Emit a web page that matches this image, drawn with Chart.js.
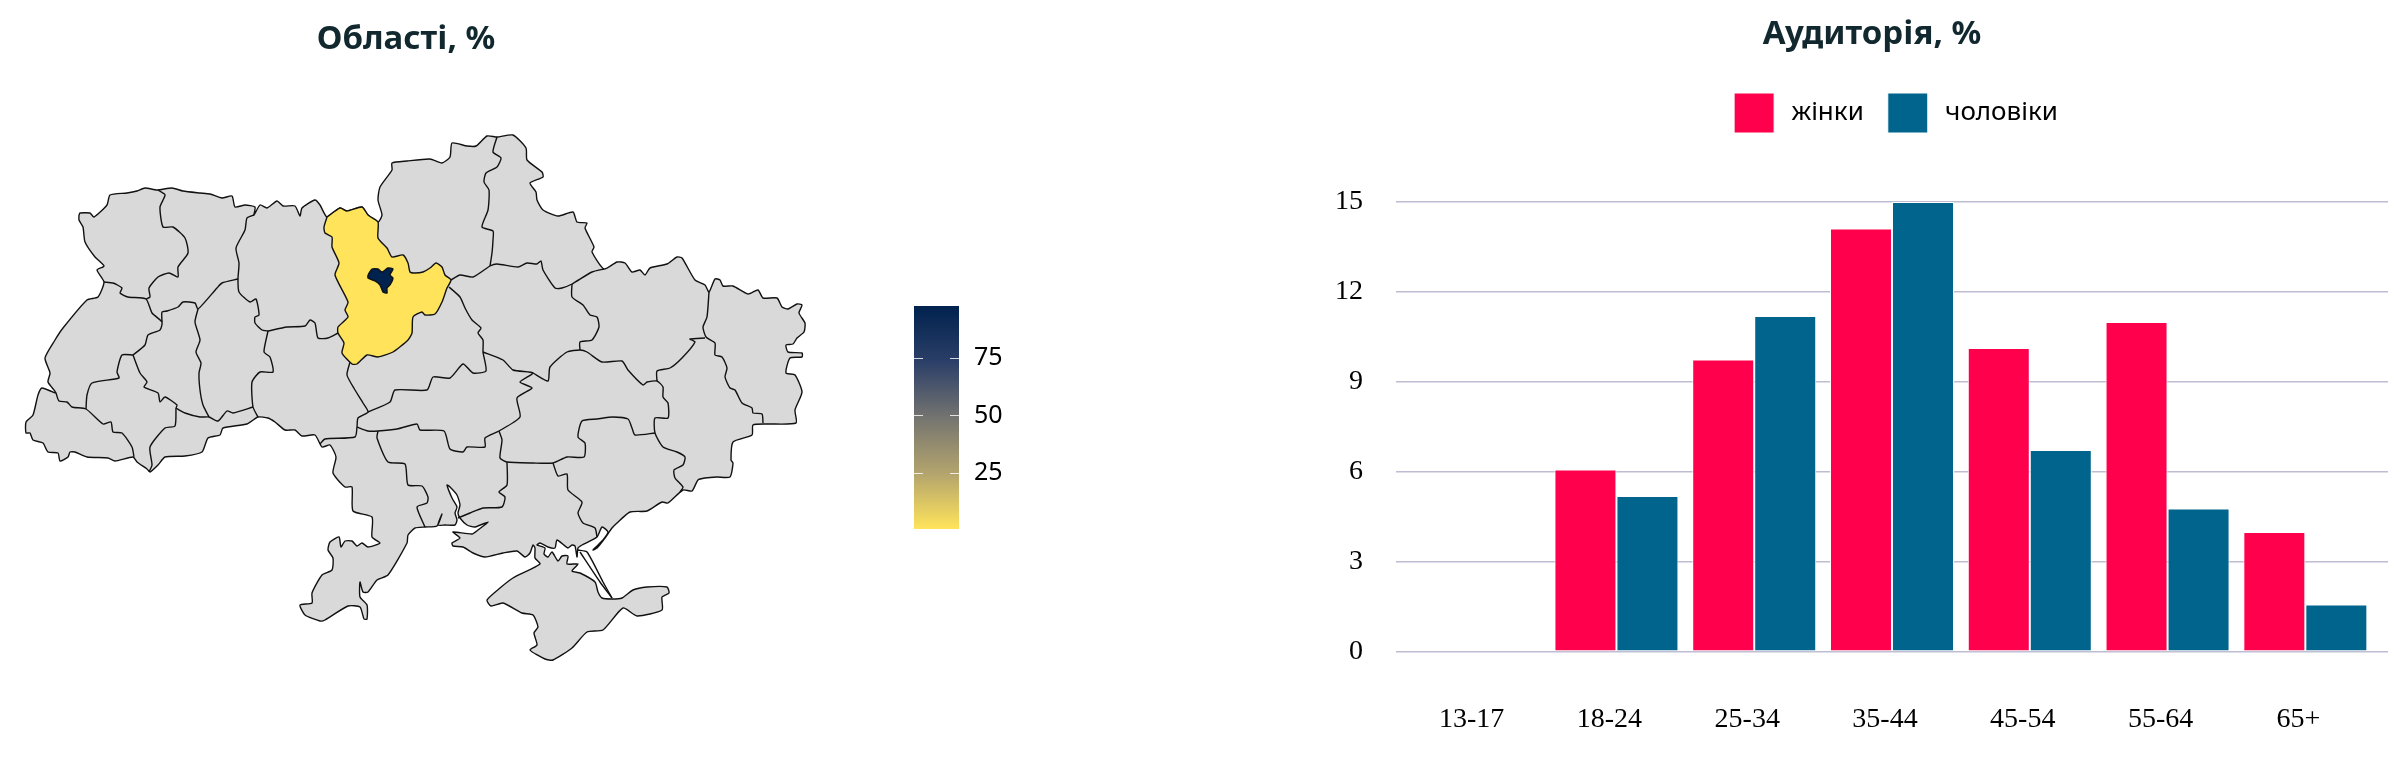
<!DOCTYPE html>
<html>
<head>
<meta charset="utf-8">
<title>Області та аудиторія</title>
<script src="https://cdn.jsdelivr.net/npm/chart.js@4/dist/chart.umd.min.js"></script>
<style>
  html, body { margin: 0; padding: 0; background: #fff; overflow: hidden; }
  body { width: 2396px; height: 760px; position: relative; }
  canvas { position: absolute; display: block; }
  h2 { position: absolute; margin: 0; font: 700 33px "Noto Sans", sans-serif; color: #12282f; transform: translateX(-50%); white-space: nowrap; }
</style>
</head>
<body>
<canvas id="map" width="900" height="760" style="left:0;top:0"></canvas>
<canvas id="scale" width="120" height="250" style="left:914px;top:290px"></canvas>
<canvas id="bars" width="1068" height="760" style="left:1320px;top:0"></canvas>
<h2 style="left:406px;top:14px">Області, %</h2>
<h2 style="left:1872px;top:9px">Аудиторія, %</h2>
<script>
// audience by age
const ageGroups = ['13-17', '18-24', '25-34', '35-44', '45-54', '55-64', '65+']
const women = [0, 6.08, 9.75, 14.12, 10.13, 11, 4]
const men = [0, 5.2, 11.2, 15, 6.73, 4.78, 1.58]
const seriesNames = ['жінки', 'чоловіки']
const ageTicks = [0, 3, 6, 9, 12, 15]

// share by region
const kyivOblastShare = 0.6
const kyivCityShare = 97.6
const scaleTicks = [25, 50, 75]
const scaleColors = ['#ffe45b', '#b3a46d', '#747470', '#2b3f68', '#00224e']

// map outlines, in map units (x to the east, y to the south)
const outlineNorth = [[79,215],[80,213],[90,213],[94,217],[107,205],[110,195],[127,193],[137,191],[145,188],[157,190],[172,188],[183,191],[200,193],[210,194],[222,198],[232,196],[235,207],[245,205],[255,207],[254,215],[260,205],[267,208],[277,201],[283,206],[295,206],[300,216],[302,208],[315,200],[320,205],[327,217],[340,208],[347,211],[362,207],[368,215],[378,222],[382,215],[378,200],[380,187],[392,170],[392,163],[407,161],[430,159],[442,163],[450,157],[452,143],[467,146],[476,146],[487,136],[497,137],[513,135],[526,148],[527,160],[542,172],[543,177],[530,183],[536,192],[537,200],[543,210],[558,216],[573,212],[577,222],[587,223],[585,228],[594,247],[592,252],[604,269]]
const outlineEast = [[617,262],[625,263],[632,272],[640,270],[645,275],[650,268],[667,264],[677,257],[682,258],[695,280],[705,285],[709,292],[715,279],[720,280],[723,286],[733,286],[748,294],[758,290],[763,298],[777,298],[782,307],[788,309],[797,304],[802,305],[799,313],[805,323],[804,332],[797,338],[793,344],[786,345],[788,352],[802,353],[802,357],[790,358],[786,373],[795,375],[802,392],[795,410],[796,423],[767,424],[753,425],[752,435],[733,442],[731,460],[733,463],[730,477],[717,477],[705,478],[698,480],[692,491],[683,490],[668,503],[662,502],[647,511],[630,512],[617,523],[612,528],[605,538],[597,548],[593,550],[597,546],[603,540],[608,532],[602,527],[597,537],[582,545],[578,548],[577,557],[575,546],[572,545],[568,548],[557,540],[555,548],[548,547],[540,543],[537,545]]
const outlineCrimea = [[545,548],[544,554],[548,557],[552,552],[558,561],[562,556],[568,556],[567,564],[578,564],[572,571],[580,573],[595,582],[598,592],[602,598],[612,599],[622,598],[633,590],[647,587],[667,587],[669,593],[662,597],[662,610],[637,616],[623,608],[603,630],[587,632],[572,648],[553,660],[545,659],[530,650],[537,645],[534,633],[538,627],[533,615],[522,613],[503,603],[491,606],[487,600],[500,588],[513,578],[540,564],[535,558],[535,548],[533,545]]
const outlineSouth = [[530,553],[525,557],[517,551],[503,553],[485,557],[473,553],[463,547],[453,546],[452,543],[460,538],[453,532],[472,534],[478,530],[488,522],[475,527],[467,525],[460,518],[458,513],[460,505],[457,495],[450,487],[447,485],[452,498],[457,507],[455,513],[457,520],[455,525],[445,525],[438,525],[442,514],[437,526],[425,527],[415,528],[408,535],[407,543],[388,575],[377,580],[368,592],[363,592],[360,582],[360,597],[367,605],[367,619],[364,619],[360,607],[348,606],[325,620],[320,621],[305,615],[300,605],[312,603],[312,593],[322,575],[332,570],[333,558],[328,550],[330,542],[339,537],[341,547],[345,541],[352,541],[357,546],[362,543],[368,547],[380,543],[372,537],[372,517],[353,511],[352,487],[345,487],[333,473],[336,457],[330,445],[322,447],[315,435],[302,436],[295,430],[285,430],[275,422],[268,418],[258,417]]
const outlineWest = [[247,424],[223,428],[220,435],[208,438],[202,452],[185,456],[165,457],[158,465],[150,472],[147,469],[137,462],[133,457],[115,461],[108,458],[87,457],[75,452],[70,452],[68,457],[60,461],[58,453],[48,452],[43,443],[33,440],[30,433],[26,433],[26,422],[33,415],[38,395],[42,388],[56,393],[48,382],[50,373],[45,358],[55,340],[63,328],[87,300],[98,297],[104,282],[97,270],[104,266],[95,257],[85,242],[83,227],[79,220],[79,215]]

const kyivOblast = [[327,217],[340,208],[347,211],[362,207],[368,215],[378,222],[378,238],[387,248],[392,257],[403,255],[408,263],[410,272],[415,273],[423,272],[430,268],[436,263],[442,267],[445,275],[451,280],[447,288],[442,302],[435,314],[425,315],[422,312],[413,317],[412,333],[408,340],[393,352],[378,357],[367,355],[357,364],[352,364],[342,353],[344,343],[338,333],[338,327],[348,317],[345,310],[348,302],[335,275],[339,263],[332,247],[332,237],[325,233],[324,227],[327,217]]
const kyivCity = [[368,275],[372,269],[378,269],[382,272],[388,268],[393,269],[390,275],[393,278],[390,285],[387,288],[387,293],[383,292],[380,285],[375,281],[368,278],[368,275]]

const borders = [
  [[158,190],[165,195],[160,207],[163,227],[173,227],[185,238],[188,253],[178,267],[178,277],[169,273],[158,277],[149,288],[150,297],[146,299]],
  [[104,282],[113,283],[122,288],[120,293],[128,297],[146,299],[152,313],[162,322],[160,330],[148,335],[145,345],[133,355]],
  [[162,322],[162,312],[167,311],[178,307],[183,302],[195,303],[198,309],[217,288],[222,283],[238,279]],
  [[254,215],[247,218],[245,230],[236,248],[239,263],[238,279],[239,292],[250,302],[256,299],[259,315],[255,317],[255,323],[262,330],[268,331]],
  [[198,309],[195,322],[200,340],[196,352],[201,363],[199,373],[200,390],[203,405],[209,417]],
  [[268,331],[264,352],[270,357],[273,372],[260,372],[252,382],[253,407],[258,417]],
  [[176,408],[185,413],[200,417],[209,417],[218,421],[227,411],[233,413],[253,407]],
  [[176,408],[175,426],[165,428],[150,447],[152,465],[149,472]],
  [[133,355],[140,373],[147,382],[144,387],[158,393],[160,402],[165,397],[177,405],[176,408]],
  [[133,355],[122,355],[117,372],[119,378],[92,383],[87,395],[86,409]],
  [[56,393],[59,401],[67,402],[72,407],[86,409],[103,424],[111,422],[113,432],[122,433],[132,447],[134,457]],
  [[268,331],[287,327],[305,326],[310,320],[315,323],[318,338],[328,338],[338,333]],
  [[350,362],[347,375],[355,390],[363,403],[368,412],[358,418],[357,427],[355,437],[325,439],[320,444]],
  [[357,427],[368,431],[378,431],[397,429],[417,424],[420,430],[444,431],[450,449],[463,452],[467,447],[485,447],[485,438],[499,431],[520,417],[517,398],[532,388],[520,382],[533,373],[513,370],[503,360],[483,352]],
  [[368,412],[390,402],[395,390],[427,390],[433,377],[450,378],[463,364],[473,373],[486,371],[483,352],[483,340],[478,333],[481,328],[472,320],[465,308],[460,297],[449,287]],
  [[533,373],[548,381],[550,367],[567,352],[580,350],[587,352],[602,362],[622,361],[628,370],[643,385],[647,382],[657,381],[663,387],[663,397],[668,403],[668,418],[655,418],[655,433],[663,447],[677,452],[685,457],[683,465],[674,470],[675,478],[683,487],[680,492]],
  [[451,280],[460,275],[473,277],[490,266],[497,264],[518,267],[527,263],[537,264],[541,261],[543,270],[555,288],[562,288],[572,284],[592,272],[604,269]],
  [[497,137],[493,152],[501,158],[497,167],[486,173],[484,182],[489,190],[488,210],[482,227],[493,231],[493,240],[492,253],[490,266]],
  [[572,284],[572,297],[583,305],[590,315],[597,317],[599,327],[592,340],[580,342],[580,350]],
  [[709,292],[707,317],[703,327],[706,337],[715,343],[715,355],[722,357],[727,368],[725,377],[730,388],[735,390],[742,403],[752,408],[753,413],[762,414],[763,423]],
  [[657,381],[657,371],[670,368],[682,358],[695,342],[690,339],[705,338]],
  [[655,433],[635,435],[632,428],[628,419],[613,417],[597,419],[582,421],[578,437],[585,443],[584,457],[567,457],[553,463],[533,463],[507,462],[500,458],[502,440],[499,431]],
  [[553,463],[558,476],[567,474],[568,490],[582,502],[578,513],[583,523],[595,528],[597,537]],
  [[378,431],[377,438],[388,462],[405,464],[408,485],[422,486],[428,497],[427,503],[417,507],[425,527]],
  [[507,462],[507,485],[499,492],[505,497],[502,507],[483,508],[470,513],[458,518]],
  [[578,550],[587,552],[603,582],[612,598]],
  [[580,552],[600,582],[612,598]]
]

const toPoints = pts => pts.map(p => ({ x: p[0], y: p[1] }))

const mix = (a, b, t) => {
  const pa = parseInt(a.slice(1), 16), pb = parseInt(b.slice(1), 16)
  const ch = s => Math.round(((pa >> s) & 255) * (1 - t) + ((pb >> s) & 255) * t)
  return `rgb(${ch(16)},${ch(8)},${ch(0)})`
}
const shareColor = v => {
  const f = (v - kyivOblastShare) / (kyivCityShare - kyivOblastShare) * (scaleColors.length - 1)
  const i = Math.min(Math.floor(f), scaleColors.length - 2)
  return mix(scaleColors[i], scaleColors[i + 1], f - i)
}

const shape = (pts, fill) => ({
  data: toPoints(pts),
  showLine: true,
  fill: 'shape',
  backgroundColor: fill,
  borderColor: '#111',
  borderWidth: 1.4,
  tension: 0.2,
  pointRadius: 0,
  clip: false
})
const edge = pts => ({
  data: toPoints(pts),
  showLine: true,
  fill: false,
  borderColor: '#111',
  borderWidth: 1.4,
  tension: 0.2,
  pointRadius: 0,
  clip: false
})

Chart.defaults.animation = false

// the first dataset is drawn last, so the country goes at the end
new Chart(document.getElementById('map'), {
  type: 'scatter',
  data: {
    datasets: [
      ...borders.map(edge),
      shape(kyivCity, shareColor(kyivCityShare)),
      shape(kyivOblast, shareColor(kyivOblastShare)),
      shape([...outlineNorth, ...outlineEast, ...outlineCrimea, ...outlineSouth, ...outlineWest], '#d9d9d9')
    ]
  },
  options: {
    responsive: false,
    plugins: { legend: { display: false }, tooltip: { enabled: false } },
    scales: {
      x: { type: 'linear', display: false, min: 0, max: 900 },
      y: { type: 'linear', display: false, min: 0, max: 760, reverse: true }
    }
  }
})

// colour scale of the map
const scaleMarks = {
  id: 'scaleMarks',
  afterDatasetsDraw(chart) {
    const { ctx, chartArea: a, scales: { y } } = chart
    ctx.save()
    ctx.strokeStyle = 'rgba(255,255,255,.8)'
    ctx.lineWidth = 1
    scaleTicks.forEach(v => {
      const py = Math.round(y.getPixelForValue(v)) + 0.5
      ctx.beginPath()
      ctx.moveTo(a.left, py); ctx.lineTo(a.left + 9, py)
      ctx.moveTo(a.right - 9, py); ctx.lineTo(a.right, py)
      ctx.stroke()
    })
    ctx.restore()
  }
}

new Chart(document.getElementById('scale'), {
  type: 'bar',
  data: {
    labels: [''],
    datasets: [{
      data: [[kyivOblastShare, kyivCityShare]],
      categoryPercentage: 1,
      barPercentage: 1,
      backgroundColor: c => {
        const a = c.chart.chartArea
        if (!a) return scaleColors[0]
        const g = c.chart.ctx.createLinearGradient(0, a.bottom, 0, a.top)
        scaleColors.forEach((col, i) => g.addColorStop(i / (scaleColors.length - 1), col))
        return g
      }
    }]
  },
  options: {
    responsive: false,
    layout: { padding: { top: 16, bottom: 11 } },
    plugins: { legend: { display: false }, tooltip: { enabled: false } },
    scales: {
      x: { display: false },
      y: {
        position: 'right',
        min: kyivOblastShare,
        max: kyivCityShare,
        afterBuildTicks: s => { s.ticks = scaleTicks.map(v => ({ value: v })) },
        afterFit: s => { s.width = 75; s.paddingTop = 0; s.paddingBottom = 0 },
        grid: { display: false, drawTicks: false },
        border: { display: false },
        ticks: { padding: 15, color: '#000', font: { family: 'Noto Sans', size: 25 } }
      }
    }
  },
  plugins: [scaleMarks]
})

// legend sits a bit right of the canvas middle, and leaves room above the plot
const legendPlace = {
  id: 'legendPlace',
  beforeInit(chart) {
    const fit = chart.legend.fit
    chart.legend.fit = function () {
      fit.call(this)
      this.height = 133
    }
  },
  afterLayout(chart) {
    chart.legend.left += 84
  }
}

const xy = vals => vals.map((v, i) => ({ x: i, y: v }))
const barStyle = {
  categoryPercentage: 0.9,
  barPercentage: 1,
  borderColor: '#fff',
  borderWidth: 1,
  borderSkipped: false
}

new Chart(document.getElementById('bars'), {
  type: 'bar',
  data: {
    datasets: [
      { label: '\u2009' + seriesNames[0], data: xy(women), backgroundColor: '#ff004d', ...barStyle },
      { label: '\u2009' + seriesNames[1], data: xy(men), backgroundColor: '#00648c', ...barStyle }
    ]
  },
  options: {
    responsive: false,
    layout: { padding: { top: 69 } },
    plugins: {
      tooltip: { enabled: false },
      legend: {
        labels: {
          boxWidth: 40,
          boxHeight: 40,
          padding: 24,
          color: '#000',
          font: { family: 'Noto Sans', size: 26 }
        }
      }
    },
    scales: {
      x: {
        type: 'linear',
        offset: false,
        min: -0.6,
        max: 6.6,
        afterBuildTicks: s => { s.ticks = ageGroups.map((g, i) => ({ value: i })) },
        afterFit: s => { s.height = 108 },
        grid: { display: false },
        border: { display: false },
        ticks: {
          // trailing spaces: the labels sit slightly left of the bar groups
          callback: v => ageGroups[v] + '  ',
          autoSkip: false,
          maxRotation: 0,
          padding: 43,
          color: '#000',
          font: { family: 'Liberation Serif', size: 28 }
        }
      },
      y: {
        min: 0,
        max: 15,
        afterBuildTicks: s => { s.ticks = ageTicks.map(v => ({ value: v })) },
        afterFit: s => { s.width = 76 },
        grid: { color: '#bdbcd2', lineWidth: 1.5, drawTicks: false },
        border: { display: false },
        ticks: { padding: 33, color: '#000', font: { family: 'Liberation Serif', size: 28 } }
      }
    }
  },
  plugins: [legendPlace]
})
</script>
</body>
</html>
